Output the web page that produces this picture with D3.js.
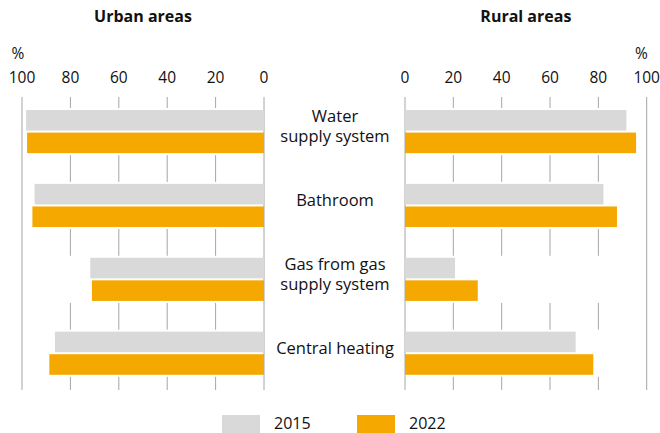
<!DOCTYPE html>
<html>
<head>
<meta charset="utf-8">
<script src="https://cdn.jsdelivr.net/npm/d3@7"></script>
<style>
  body { margin: 0; background: #fff; }
  text { font-family: "Open Sans", sans-serif; fill: #111; }
</style>
</head>
<body>
<div id="chart-area"></div>
<script>
// data
var categories = ["Water supply system", "Bathroom", "Gas from gas supply system", "Central heating"];
var categoryLines = [["Water", "supply system"], ["Bathroom"], ["Gas from gas", "supply system"], ["Central heating"]];
var years = ["2015", "2022"];
var urban2015 = [98.3, 94.8, 71.8, 86.4];
var urban2022 = [97.9, 95.7, 71.1, 88.7];
var rural2015 = [91.6, 82.1, 20.7, 70.6];
var rural2022 = [95.6, 87.7, 30.1, 77.9];
var ticks = [0, 20, 40, 60, 80, 100];

var colors = { "2015": "#d9d9d9", "2022": "#f5a800" };

var width = 660, height = 433;
var gridTop = 97, gridBottom = 390;

var svg = d3.select("#chart-area").append("svg")
    .attr("width", width)
    .attr("height", height);

// scales
var y = d3.scaleBand()
    .domain(categories)
    .range([110, 374.8])
    .paddingInner(0.416)
    .paddingOuter(0);

var yInner = d3.scaleBand()
    .domain(years)
    .range([0, y.bandwidth()])
    .paddingInner(0.089);

var xLeft = d3.scaleLinear().domain([0, 100]).range([264, 22]);
var xRight = d3.scaleLinear().domain([0, 100]).range([405, 646.7]);

function panel(x, v2015, v2022, title, pctAnchorX) {
    var g = svg.append("g");

    // inner grid lines
    g.selectAll(".grid")
        .data(ticks.filter(function (d) { return d > 0 && d < 100; }))
        .enter().append("line")
        .attr("x1", function (d) { return x(d); })
        .attr("x2", function (d) { return x(d); })
        .attr("y1", gridTop)
        .attr("y2", gridBottom)
        .attr("stroke", "#a6a6a6")
        .attr("stroke-width", 1);

    // white bands hide the grid inside each group
    g.selectAll(".band")
        .data(categories)
        .enter().append("rect")
        .attr("x", Math.min(x(0), x(100)) + 1)
        .attr("width", Math.abs(x(100) - x(0)) - 2)
        .attr("y", function (d) { return y(d) - 2; })
        .attr("height", y.bandwidth() + 4)
        .attr("fill", "#fff");

    // outer lines (0 and 100)
    g.selectAll(".edge")
        .data([0, 100])
        .enter().append("line")
        .attr("x1", function (d) { return x(d); })
        .attr("x2", function (d) { return x(d); })
        .attr("y1", gridTop)
        .attr("y2", gridBottom)
        .attr("stroke", "#a6a6a6")
        .attr("stroke-width", 1);

    // bars
    var series = [{ year: "2015", values: v2015 }, { year: "2022", values: v2022 }];
    series.forEach(function (s) {
        g.selectAll(".bar" + s.year)
            .data(s.values)
            .enter().append("rect")
            .attr("x", function (d) { return Math.min(x(0), x(d)); })
            .attr("width", function (d) { return Math.abs(x(d) - x(0)); })
            .attr("y", function (d, i) { return y(categories[i]) + yInner(s.year); })
            .attr("height", yInner.bandwidth())
            .attr("fill", colors[s.year]);
    });

    // tick labels
    g.selectAll(".tick")
        .data(ticks)
        .enter().append("text")
        .attr("x", function (d) { return x(d); })
        .attr("y", 83)
        .attr("text-anchor", "middle")
        .attr("font-size", "15.5px")
        .text(function (d) { return d; });

    g.append("text")
        .attr("x", pctAnchorX)
        .attr("y", 59)
        .attr("text-anchor", "middle")
        .attr("font-size", "15.5px")
        .text("%");

    g.append("text")
        .attr("x", (x(0) + x(100)) / 2)
        .attr("y", 22)
        .attr("text-anchor", "middle")
        .attr("font-size", "16px")
        .attr("font-weight", "bold")
        .text(title);
}

panel(xLeft, urban2015, urban2022, "Urban areas", 18);
panel(xRight, rural2015, rural2022, "Rural areas", 641.5);

// category labels
var lineH = 20;
svg.selectAll(".cat")
    .data(categories)
    .enter().append("text")
    .attr("text-anchor", "middle")
    .attr("font-size", "16.5px")
    .each(function (d, i) {
        var lines = categoryLines[i];
        var cy = y(d) + y.bandwidth() / 2 - 5;
        var first = cy - (lines.length - 1) * lineH / 2 + 5.5;
        d3.select(this).selectAll("tspan")
            .data(lines)
            .enter().append("tspan")
            .attr("x", 335)
            .attr("y", function (l, j) { return first + j * lineH; })
            .text(function (l) { return l; });
    });

// legend
var legend = [{ year: "2015", x: 222 }, { year: "2022", x: 357 }];
var lg = svg.selectAll(".legend")
    .data(legend)
    .enter().append("g");
lg.append("rect")
    .attr("x", function (d) { return d.x; })
    .attr("y", 415)
    .attr("width", 38)
    .attr("height", 18)
    .attr("fill", function (d) { return colors[d.year]; });
lg.append("text")
    .attr("x", function (d) { return d.x + 52; })
    .attr("y", 429)
    .attr("font-size", "16px")
    .text(function (d) { return d.year; });
</script>
</body>
</html>
